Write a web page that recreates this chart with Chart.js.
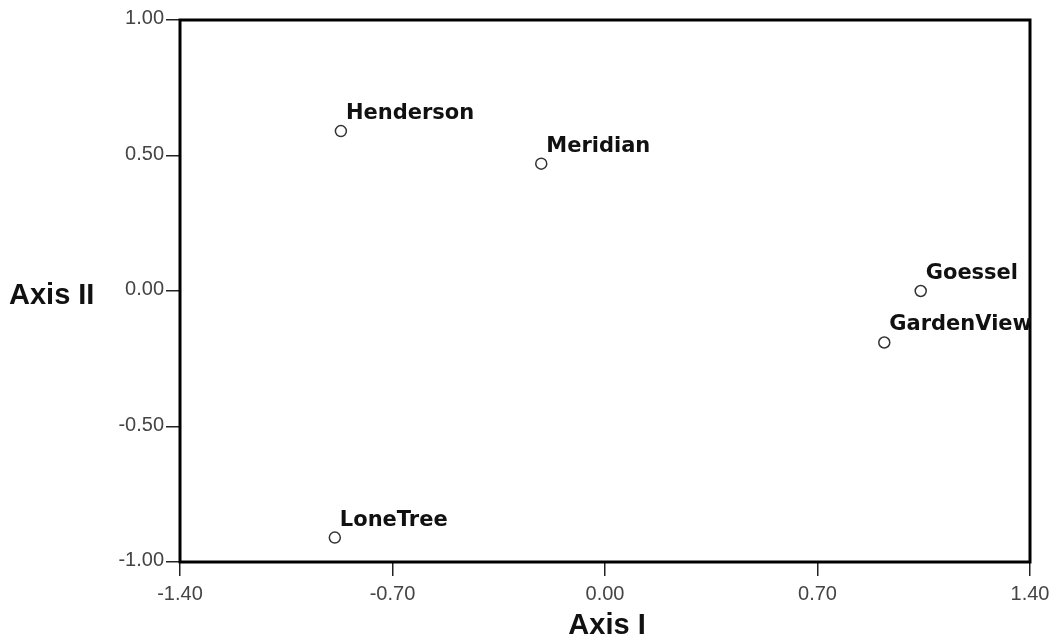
<!DOCTYPE html>
<html>
<head>
<meta charset="utf-8">
<script src="https://cdn.jsdelivr.net/npm/chart.js@4/dist/chart.umd.min.js"></script>
<style>
  html, body { margin: 0; padding: 0; background: #fff; }
  #wrap { width: 1059px; height: 640px; }
</style>
</head>
<body>
<div id="wrap"><canvas id="c" width="1059" height="640"></canvas></div>
<script>
const siteNames = ['Henderson', 'Meridian', 'Goessel', 'GardenView', 'LoneTree'];
const axisIValues = [-0.87, -0.21, 1.04, 0.92, -0.89];
const axisIIValues = [0.59, 0.47, 0.00, -0.19, -0.91];
const xTickValues = [-1.40, -0.70, 0.00, 0.70, 1.40];
const yTickValues = [-1.00, -0.50, 0.00, 0.50, 1.00];
const xTitle = 'Axis I';
const yTitle = 'Axis II';

const points = axisIValues.map((x, i) => ({ x: x, y: axisIIValues[i], name: siteNames[i] }));

const framePlugin = {
  id: 'frameAndLabels',
  afterDatasetsDraw(chart) {
    const ctx = chart.ctx;
    const a = chart.chartArea;
    ctx.save();
    // frame
    ctx.strokeStyle = '#000';
    ctx.lineWidth = 3;
    ctx.strokeRect(a.left, a.top, a.right - a.left, a.bottom - a.top);
    // point labels
    const meta = chart.getDatasetMeta(0);
    ctx.font = 'bold 21px "DejaVu Sans"';
    ctx.fillStyle = '#111';
    ctx.textAlign = 'left';
    ctx.textBaseline = 'alphabetic';
    meta.data.forEach((el, i) => {
      ctx.fillText(points[i].name, el.x + 5, el.y - 12);
    });
    // axis titles
    ctx.font = 'bold 29px "Liberation Sans", Arial, sans-serif';
    ctx.fillStyle = '#111';
    ctx.textAlign = 'left';
    ctx.fillText(yTitle, 9, 304);
    ctx.textAlign = 'center';
    ctx.fillText(xTitle, (a.left + a.right) / 2 + 2, 634);
    ctx.restore();
  }
};

new Chart(document.getElementById('c'), {
  type: 'scatter',
  data: {
    datasets: [{
      data: points,
      pointRadius: 5.5,
      pointHoverRadius: 5.5,
      pointBackgroundColor: '#fff',
      pointBorderColor: '#333',
      pointBorderWidth: 1.5
    }]
  },
  options: {
    responsive: false,
    animation: false,
    events: [],
    layout: { padding: { left: 0, top: 20, right: 29, bottom: 0 } },
    plugins: { legend: { display: false }, tooltip: { enabled: false } },
    scales: {
      x: {
        type: 'linear',
        min: -1.4,
        max: 1.4,
        afterBuildTicks(scale) { scale.ticks = xTickValues.map(v => ({ value: v })); },
        afterFit(scale) { scale.height = 78; },
        border: { display: false },
        grid: { drawOnChartArea: false, drawTicks: true, tickLength: 14, color: '#222', lineWidth: 1.5 },
        ticks: {
          maxRotation: 0,
          autoSkip: false,
          padding: 6,
          color: '#444',
          font: { family: '"Liberation Sans", Arial, sans-serif', size: 20 },
          callback: v => Number(v).toFixed(2)
        }
      },
      y: {
        type: 'linear',
        min: -1,
        max: 1,
        afterBuildTicks(scale) { scale.ticks = yTickValues.map(v => ({ value: v })); },
        afterFit(scale) { scale.width = 180; },
        border: { display: false },
        grid: { drawOnChartArea: false, drawTicks: true, tickLength: 14, color: '#222', lineWidth: 1.5 },
        ticks: {
          autoSkip: false,
          padding: 2,
          labelOffset: -1.5,
          color: '#444',
          font: { family: '"Liberation Sans", Arial, sans-serif', size: 20 },
          callback: v => Number(v).toFixed(2)
        }
      }
    }
  },
  plugins: [framePlugin]
});
</script>
</body>
</html>
